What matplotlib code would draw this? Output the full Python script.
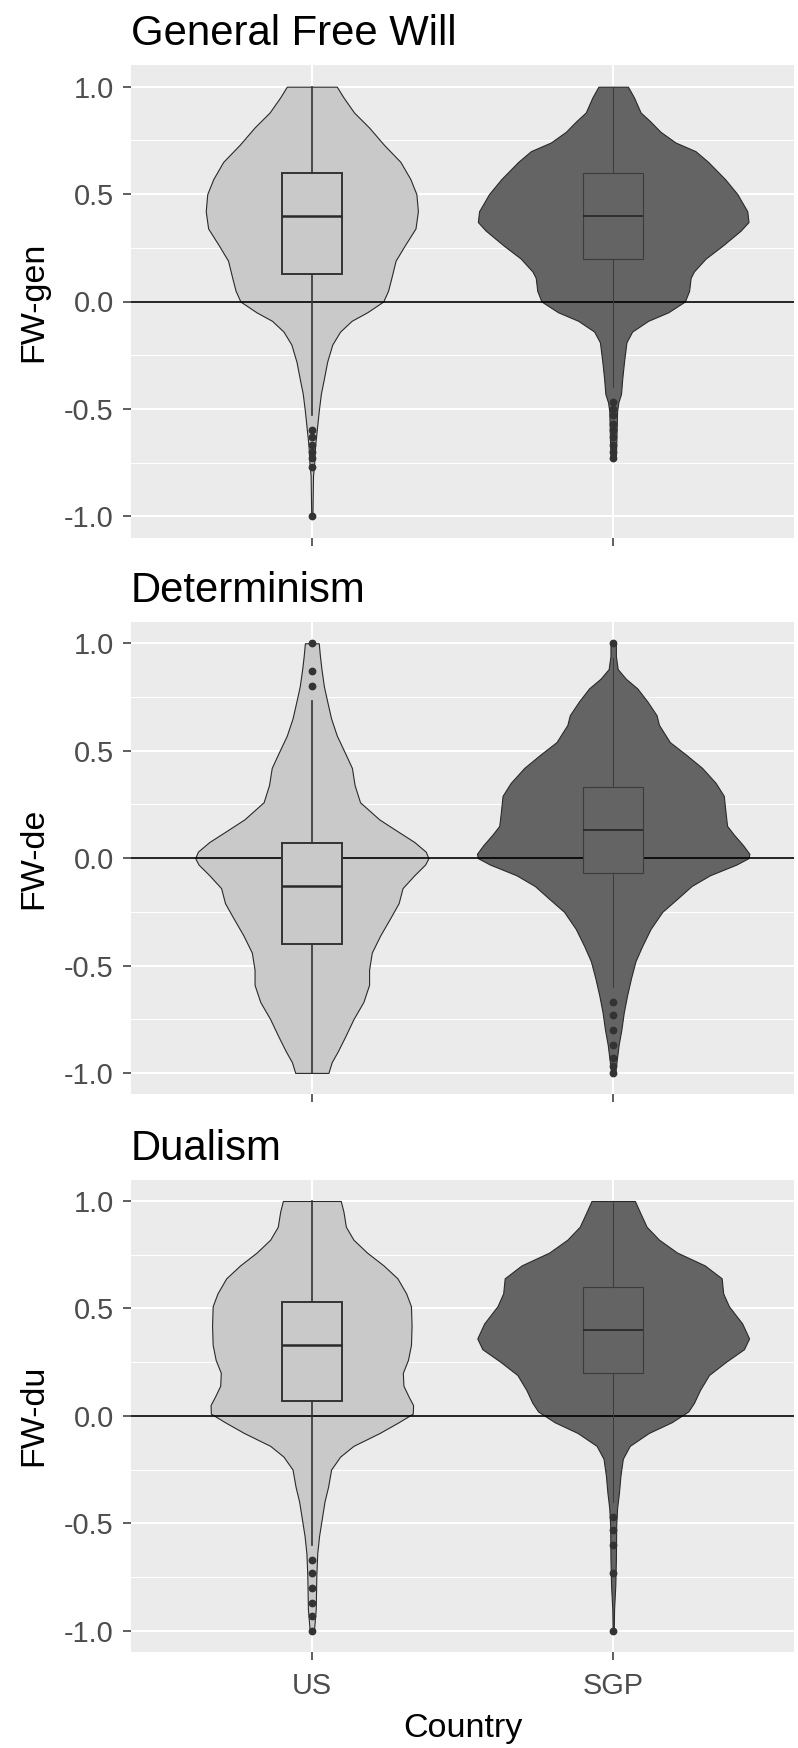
import numpy as np
import matplotlib
matplotlib.use("Agg")
import matplotlib.pyplot as plt
from matplotlib.ticker import FixedLocator

plt.rcParams['font.family'] = ['Liberation Sans', 'DejaVu Sans']

# ---------------- data ----------------
countries = ["US", "SGP"]
panel_titles = ["General Free Will", "Determinism", "Dualism"]
y_labels = ["FW-gen", "FW-de", "FW-du"]
x_label = "Country"
y_ticks = [-1.0, -0.5, 0.0, 0.5, 1.0]
y_tick_labels = ["-1.0", "-0.5", "0.0", "0.5", "1.0"]
y_minor = [-0.75, -0.25, 0.25, 0.75]

# violin outlines: y levels and half-widths (x data units)
gen_us_y = [1.0, 0.95, 0.88, 0.81, 0.73, 0.65, 0.57, 0.50, 0.42, 0.34, 0.26, 0.19, 0.11, 0.05, 0.0,
            -0.05, -0.09, -0.14, -0.20, -0.28, -0.36, -0.43, -0.51, -0.59, -0.67, -0.75, -0.81, -0.90, -1.0]
gen_us_hw = [0.083, 0.105, 0.14, 0.19, 0.239, 0.294, 0.327, 0.347, 0.352, 0.344, 0.308, 0.278, 0.264, 0.253, 0.237,
             0.184, 0.132, 0.094, 0.068, 0.051, 0.040, 0.030, 0.023, 0.017, 0.011, 0.008, 0.004, 0.003, 0.002]

gen_sgp_y = [1.0, 0.95, 0.88, 0.84, 0.79, 0.74, 0.70, 0.65, 0.57, 0.50, 0.42, 0.37, 0.33, 0.26, 0.20, 0.14, 0.11,
             0.05, 0.0, -0.05, -0.09, -0.14, -0.19, -0.28, -0.36, -0.43, -0.47, -0.51, -0.73]
gen_sgp_hw = [0.049, 0.069, 0.091, 0.122, 0.157, 0.207, 0.273, 0.315, 0.371, 0.412, 0.445, 0.449, 0.423, 0.363, 0.307,
              0.268, 0.257, 0.252, 0.238, 0.183, 0.116, 0.063, 0.044, 0.036, 0.030, 0.026, 0.017, 0.013, 0.009]

de_us_y = [1.0, 0.94, 0.88, 0.80, 0.73, 0.65, 0.57, 0.49, 0.42, 0.34, 0.26, 0.18, 0.12, 0.075, 0.03, 0.0,
           -0.03, -0.08, -0.14, -0.21, -0.28, -0.36, -0.44, -0.52, -0.59, -0.67, -0.75, -0.83, -0.90, -0.95, -1.0]
de_us_hw = [0.023, 0.027, 0.032, 0.040, 0.051, 0.064, 0.083, 0.11, 0.133, 0.142, 0.16, 0.224, 0.29, 0.34, 0.378, 0.387,
            0.376, 0.34, 0.301, 0.288, 0.26, 0.227, 0.199, 0.19, 0.19, 0.171, 0.138, 0.111, 0.086, 0.066, 0.055]

de_sgp_y = [1.0, 0.94, 0.88, 0.835, 0.79, 0.73, 0.665, 0.62, 0.54, 0.48, 0.42, 0.35, 0.29, 0.21, 0.15, 0.11, 0.06,
            0.02, 0.0, -0.03, -0.08, -0.13, -0.19, -0.25, -0.33, -0.41, -0.48, -0.56, -0.64, -0.72, -0.80, -0.87,
            -0.95, -1.0]
de_sgp_hw = [0.009, 0.009, 0.015, 0.042, 0.08, 0.113, 0.144, 0.152, 0.188, 0.243, 0.295, 0.34, 0.367, 0.373, 0.378,
             0.40, 0.431, 0.452, 0.449, 0.409, 0.321, 0.26, 0.212, 0.163, 0.124, 0.096, 0.074, 0.059, 0.046, 0.035,
             0.027, 0.018, 0.011, 0.007]

du_us_y = [1.0, 0.95, 0.88, 0.82, 0.76, 0.70, 0.64, 0.57, 0.51, 0.42, 0.33, 0.26, 0.20, 0.14, 0.09, 0.05, 0.01,
           -0.03, -0.08, -0.14, -0.19, -0.25, -0.33, -0.40, -0.48, -0.56, -0.64, -0.74, -0.90, -1.0]
du_us_hw = [0.096, 0.105, 0.113, 0.138, 0.183, 0.238, 0.284, 0.313, 0.329, 0.331, 0.329, 0.319, 0.302, 0.304, 0.321,
            0.336, 0.335, 0.288, 0.225, 0.138, 0.094, 0.064, 0.054, 0.042, 0.033, 0.024, 0.018, 0.015, 0.013, 0.007]

du_sgp_y = [1.0, 0.95, 0.88, 0.82, 0.76, 0.70, 0.64, 0.57, 0.51, 0.43, 0.36, 0.31, 0.25, 0.19, 0.12, 0.06, 0.02,
            -0.03, -0.08, -0.14, -0.20, -0.28, -0.36, -0.43, -0.51, -0.67, -0.79, -0.90, -1.0]
du_sgp_hw = [0.072, 0.088, 0.111, 0.152, 0.212, 0.304, 0.36, 0.365, 0.384, 0.428, 0.451, 0.434, 0.373, 0.318, 0.288,
             0.268, 0.249, 0.194, 0.118, 0.055, 0.032, 0.024, 0.019, 0.013, 0.010, 0.009, 0.007, 0.003, 0.002]

# box statistics: [lower whisker, Q1, median, Q3, upper whisker]
gen_us_box = [-0.53, 0.13, 0.40, 0.60, 1.00]
gen_sgp_box = [-0.40, 0.20, 0.40, 0.60, 1.00]
de_us_box = [-1.00, -0.40, -0.13, 0.07, 0.73]
de_sgp_box = [-0.60, -0.07, 0.13, 0.33, 0.93]
du_us_box = [-0.60, 0.07, 0.33, 0.53, 1.00]
du_sgp_box = [-0.40, 0.20, 0.40, 0.60, 1.00]

# outliers
gen_us_out = [-0.60, -0.63, -0.67, -0.70, -0.73, -0.77, -1.0]
gen_sgp_out = [-0.47, -0.50, -0.53, -0.57, -0.60, -0.63, -0.67, -0.70, -0.73]
de_us_out = [0.80, 0.87, 1.0]
de_sgp_out = [-0.67, -0.73, -0.80, -0.87, -0.93, -0.97, -1.0, 1.0]
du_us_out = [-0.67, -0.73, -0.80, -0.87, -0.93, -1.0]
du_sgp_out = [-0.47, -0.53, -0.60, -0.73, -1.0]

panels = [
    [(gen_us_y, gen_us_hw, gen_us_box, gen_us_out), (gen_sgp_y, gen_sgp_hw, gen_sgp_box, gen_sgp_out)],
    [(de_us_y, de_us_hw, de_us_box, de_us_out), (de_sgp_y, de_sgp_hw, de_sgp_box, de_sgp_out)],
    [(du_us_y, du_us_hw, du_us_box, du_us_out), (du_sgp_y, du_sgp_hw, du_sgp_box, du_sgp_out)],
]

# ---------------- style ----------------
W, H = 798, 1748
fig = plt.figure(figsize=(W / 100, H / 100), dpi=100)

fills = ["#C9C9C9", "#646464"]
box_edge = ["#333333", "#3c3c3c"]
box_lw = [1.4, 0.8]
med_lw = [1.8, 1.3]
whisk_lw = [1.2, 0.75]

panel_left, panel_w, panel_h = 131, 663, 472.6
panel_tops = [65.2, 621.8, 1179.5]

TICK_FS = 20.8
AX_FS = 24.5
TITLE_FS = 30.2

for i, (top, pdata) in enumerate(zip(panel_tops, panels)):
    ax = fig.add_axes([panel_left / W, 1 - (top + panel_h) / H, panel_w / W, panel_h / H])
    ax.set_facecolor("#EBEBEB")
    ax.set_xlim(0.4, 2.6)
    ax.set_ylim(-1.1, 1.1)
    for s in ax.spines.values():
        s.set_visible(False)
    ax.yaxis.set_major_locator(FixedLocator(y_ticks))
    ax.yaxis.set_minor_locator(FixedLocator(y_minor))
    ax.set_yticklabels(y_tick_labels)
    ax.set_xticks([1, 2])
    ax.set_axisbelow(True)
    ax.grid(which="major", color="white", linewidth=1.45)
    ax.grid(which="minor", axis="y", color="white", linewidth=0.75)
    ax.tick_params(axis="both", which="major", length=5.8, width=1.1, color="#333333",
                   labelsize=TICK_FS, labelcolor="#4D4D4D")
    ax.tick_params(axis="y", which="major", pad=6.7)
    ax.tick_params(axis="x", which="major", pad=8.5)
    ax.tick_params(axis="y", which="minor", length=0)
    if i < 2:
        ax.set_xticklabels([])
    else:
        ax.set_xticklabels(countries)

    for j, (vy, vhw, box, outs) in enumerate(pdata):
        pos = j + 1
        vy = np.asarray(vy)
        vhw = np.asarray(vhw)
        ax.fill_betweenx(vy, pos - vhw, pos + vhw, facecolor=fills[j], edgecolor="#2a2a2a",
                         linewidth=0.8, zorder=1)

    ax.axhline(0, color="black", linewidth=1.2, zorder=2)

    for j, (vy, vhw, box, outs) in enumerate(pdata):
        pos = j + 1
        stats = [dict(whislo=box[0], q1=box[1], med=box[2], q3=box[3], whishi=box[4], fliers=outs)]
        ax.bxp(stats, positions=[pos], widths=0.2, patch_artist=True, showcaps=False,
               manage_ticks=False, zorder=3,
               boxprops=dict(facecolor=fills[j], edgecolor=box_edge[j], linewidth=box_lw[j]),
               whiskerprops=dict(color=box_edge[j], linewidth=whisk_lw[j]),
               medianprops=dict(color="#2a2a2a", linewidth=med_lw[j]),
               flierprops=dict(marker="o", markerfacecolor="#333333", markeredgecolor="#333333",
                               markersize=4.6, linestyle="none"))

    # panel title
    fig.text(panel_left / W, 1 - (top - 20) / H, panel_titles[i], fontsize=TITLE_FS,
             ha="left", va="baseline", color="black")
    # y label
    fig.text(33.5 / W, 1 - (top + panel_h / 2) / H, y_labels[i], fontsize=AX_FS, rotation=90,
             ha="center", va="center", color="black")

fig.text((panel_left + panel_w / 2) / W, 1 - 1737 / H, x_label, fontsize=AX_FS,
         ha="center", va="baseline", color="black")

fig.savefig("out.png", dpi=100)
